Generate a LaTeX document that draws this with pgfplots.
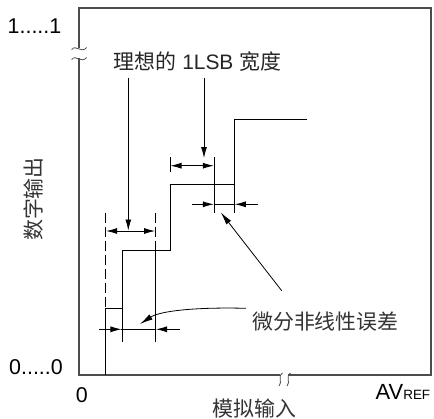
\documentclass[border=0pt]{standalone}
\usepackage{fontspec}
\setmainfont{Liberation Sans}
\newfontfamily\cjk{Noto Sans CJK SC}
\usepackage{pgfplots}
\pgfplotsset{compat=1.18}
\usetikzlibrary{arrows.meta}
\begin{document}
\begin{tikzpicture}
\useasboundingbox (-79bp,-44bp) rectangle (355bp,375bp);
\begin{axis}[
  width=352bp, height=367bp, scale only axis,
  xmin=79, xmax=431, ymin=8, ymax=375, y dir=reverse,
  hide axis, clip=false,
  tick style={draw=none},
]
% frame with breaks
\addplot[draw=black!70, line width=1.1bp] coordinates {(280,375) (79,375) (79,58.3)};
\addplot[draw=black!70, line width=1.1bp] coordinates {(79,48.3) (79,8) (431,8) (431,375) (288.3,375)};
\draw[black!70, line width=0.8bp] (axis cs:71.7,49.5) .. controls (axis cs:76,44) and (axis cs:81,54) .. (axis cs:86.7,47.5);
\draw[black!70, line width=0.8bp] (axis cs:71.7,59.5) .. controls (axis cs:76,54) and (axis cs:81,64) .. (axis cs:86.7,57.5);
\draw[black!70, line width=0.8bp] (axis cs:282.5,373) .. controls (axis cs:277,377) and (axis cs:283,382) .. (axis cs:279,386);
\draw[black!70, line width=0.8bp] (axis cs:290.5,373) .. controls (axis cs:285,377) and (axis cs:291,382) .. (axis cs:287,386);
% staircase
\addplot[black, line width=0.9bp] coordinates {(105.7,375) (105.7,308.5) (122,308.5) (122,250.7) (170,250.7) (170,184) (234.3,184) (234.3,119.7) (307.3,119.7)};
% extension lines
\addplot[black, line width=0.8bp] coordinates {(122,308.5) (122,341.7)};
\addplot[black, line width=0.8bp, dash pattern=on 10bp off 4bp] coordinates {(105.7,212.7) (105.7,308.5)};
\addplot[black, line width=0.8bp, dash pattern=on 10bp off 4bp] coordinates {(155.5,212.7) (155.5,250.7)};
\addplot[black, line width=0.8bp] coordinates {(155.5,246) (155.5,341.7)};
\addplot[black, line width=0.8bp] coordinates {(170,157) (170,172)};
\addplot[black, line width=0.8bp] coordinates {(214.3,157) (214.3,213)};
\addplot[black, line width=0.8bp] coordinates {(234.3,184) (234.3,213.3)};
% ideal 1LSB dimensions (outward arrows)
\addplot[black, line width=0.8bp, {Latex[length=11bp,width=6bp]}-{Latex[length=11bp,width=6bp]}] coordinates {(106.2,231) (155,231)};
\addplot[black, line width=0.8bp, {Latex[length=11bp,width=6bp]}-{Latex[length=11bp,width=6bp]}] coordinates {(170.5,165.7) (213.8,165.7)};
\addplot[black, line width=0.8bp, -{Latex[length=11bp,width=6bp]}] coordinates {(128.3,78) (128.3,230.5)};
\addplot[black, line width=0.8bp, -{Latex[length=11bp,width=6bp]}] coordinates {(204,78) (204,158)};
% DNL dimensions (inward arrows)
\addplot[black, line width=0.8bp, -{Latex[length=11bp,width=6bp]}] coordinates {(99,329.3) (121.5,329.3)};
\addplot[black, line width=0.8bp] coordinates {(121.5,329.3) (156,329.3)};
\addplot[black, line width=0.8bp, -{Latex[length=11bp,width=6bp]}] coordinates {(180,329.3) (156,329.3)};
\addplot[black, line width=0.8bp, -{Latex[length=11bp,width=6bp]}] coordinates {(191.7,204.3) (213.8,204.3)};
\addplot[black, line width=0.8bp] coordinates {(213.8,204.3) (234.8,204.3)};
\addplot[black, line width=0.8bp, -{Latex[length=11bp,width=6bp]}] coordinates {(258.3,204.3) (234.8,204.3)};
% pointer arrows from label
\addplot[black, line width=0.8bp, -{Latex[length=13bp,width=6bp]}] coordinates {(281.7,290.7) (220.7,212.3)};
\draw[black, line width=0.8bp, -{Latex[length=13bp,width=6bp]}] (axis cs:246,308.3) .. controls (axis cs:195,307) and (axis cs:160,311) .. (axis cs:140,324);
% labels
\node[anchor=base west, inner sep=0, text=black!85, font=\fontsize{21}{25}\selectfont] at (axis cs:113.5,69.5) {{\cjk 理想的} 1LSB {\cjk 宽度}};
\node[anchor=base west, inner sep=0, text=black!80, font=\fontsize{21}{25}\selectfont\cjk] at (axis cs:252,329.5) {微分非线性误差};
\node[anchor=base west, inner sep=0, text=black!80, font=\fontsize{21}{25}\selectfont\cjk] at (axis cs:212.5,416) {模拟输入};
\node[rotate=90, inner sep=0, text=black!80, font=\fontsize{21}{25}\selectfont\cjk] at (axis cs:34,199) {数字输出};
\node[anchor=base west, inner sep=0, font=\fontsize{21.5}{25}\selectfont] at (axis cs:7.5,33.3) {1.....1};
\node[anchor=base west, inner sep=0, font=\fontsize{21.5}{25}\selectfont] at (axis cs:9,374) {0.....0};
\node[anchor=base west, inner sep=0, font=\fontsize{21.5}{25}\selectfont] at (axis cs:75.8,402.7) {0};
\node[anchor=base west, inner sep=0, font=\fontsize{22}{26}\selectfont] at (axis cs:375.5,399.3) {AV\fontsize{13.5}{15}\selectfont REF};
\end{axis}
\end{tikzpicture}
\end{document}
